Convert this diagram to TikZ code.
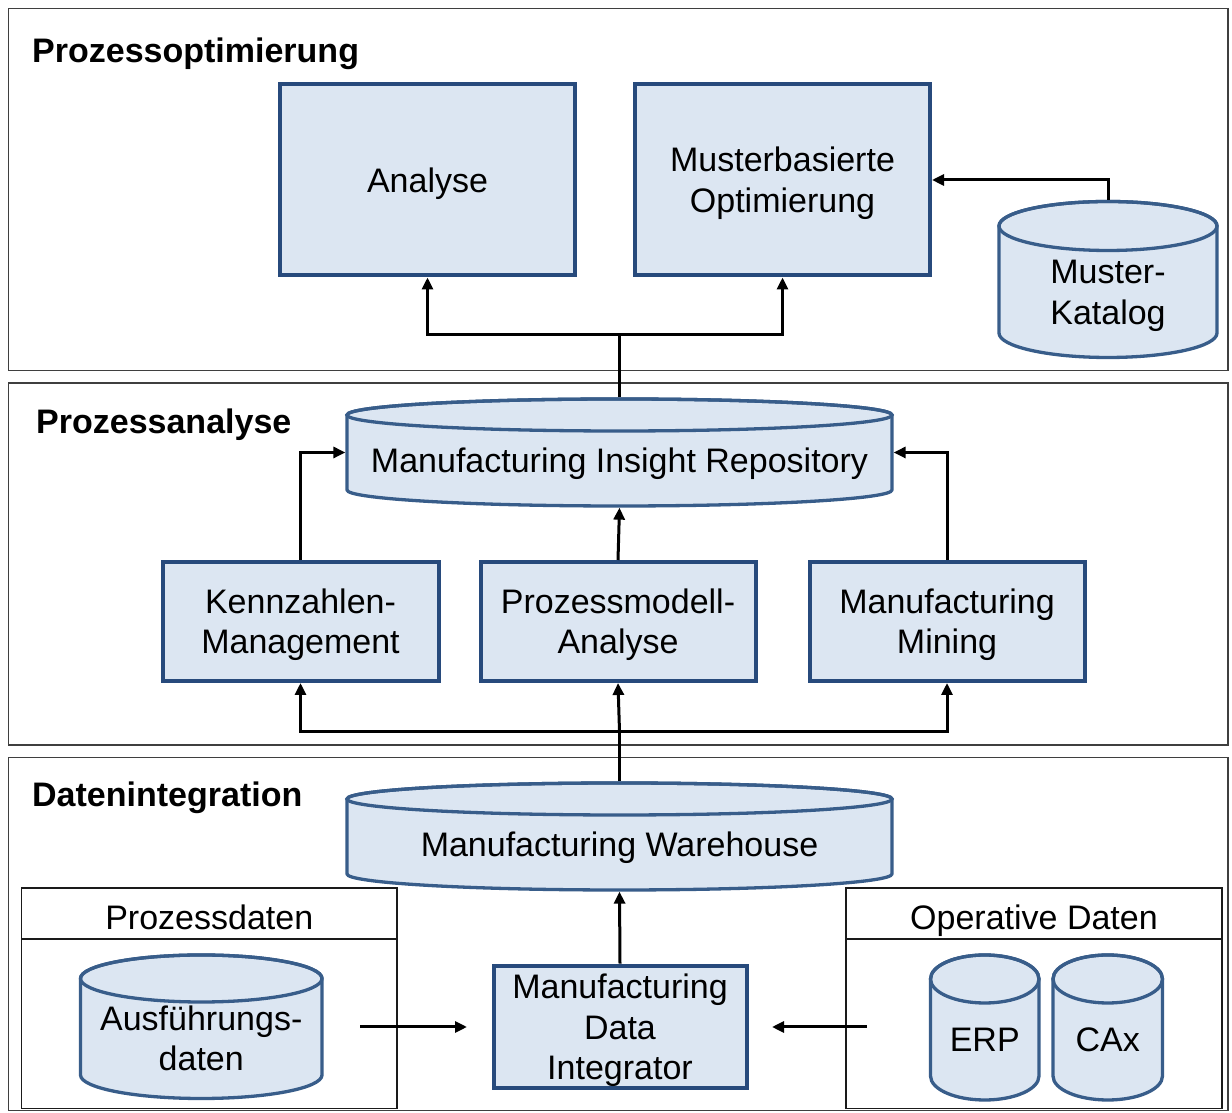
\documentclass[tikz,border=0pt]{standalone}
\usepackage{fontspec}
\setmainfont{Liberation Sans}
\usetikzlibrary{arrows.meta}

\definecolor{boxfill}{HTML}{DCE6F2}
\definecolor{boxline}{HTML}{274A7C}
\definecolor{cylline}{HTML}{385D8A}
\definecolor{panelline}{HTML}{3F3F3F}
\definecolor{subline}{HTML}{1A1A1A}

% struts so that the cap height of every text block is centred in its node
\newcommand\topstrut{\rule{0pt}{33pt}}
\newcommand\botstrut{\rule[-8.7pt]{0pt}{8.7pt}}

% database cylinder: name, left, right, top row, bottom row, y radius, text
% (rows are measured downwards from the top edge of the page)
\newcommand\dbcyl[7]{%
  \path[cylbody] ({#2},{1113-#4-#6}) -- ({#2},{1113-#5+#6})
     arc[start angle=180, end angle=360, x radius={(#3-#2)/2}, y radius={#6}]
     -- ({#3},{1113-#4-#6})
     arc[start angle=0, end angle=180, x radius={(#3-#2)/2}, y radius={#6}] -- cycle;
  \draw[cyledge] ({(#2+#3)/2},{1113-#4-#6}) ellipse[x radius={(#3-#2)/2}, y radius={#6}];
  \node[anchorbox, minimum width={(#3-#2)*1pt}, minimum height={(#5-#4)*1pt}]
     (#1) at ({(#2+#3)/2},{1113-(#4+#5)/2}) {};
  \node[txt] (#1-t) at ({(#2+#3)/2},{1113-(#4+#6+#5)/2}) {\topstrut#7};
}

\tikzset{
  txt/.style={font=\fontsize{34}{40.5}\selectfont, align=center, inner sep=0pt,
    execute at begin node=\topstrut, execute at end node=\botstrut},
  title/.style={font=\fontsize{34}{40.5}\selectfont\bfseries, inner sep=0pt, anchor=base west},
  blbox/.style={txt, rectangle, draw=boxline, fill=boxfill, line width=4pt,
    outer sep=2pt},
  cylbody/.style={draw=cylline, fill=boxfill, line width=3.3pt, line join=round},
  cyledge/.style={draw=cylline, line width=3.3pt},
  anchorbox/.style={rectangle, draw=none, inner sep=0pt, outer sep=1.65pt},
  panel/.style={draw=panelline, line width=1.5pt},
  subpanel/.style={draw=subline, line width=1.6pt},
  conn/.style={line width=3pt, -{Triangle[length=12pt,width=11pt]}},
  plainline/.style={line width=3pt},
}

\begin{document}
\begin{tikzpicture}[x=1pt, y=1pt]
  \useasboundingbox[fill=white] (0,0) rectangle (1232,1113);

  % layer frames
  \draw[panel] (8.5,742.5) rectangle (1228,1104.5);
  \draw[panel] (8.5,368) rectangle (1228,730);
  \draw[panel] (8.5,2.5) rectangle (1228,355.5);

  \node[title] (t1) at (32,1050.5) {Prozessoptimierung};
  \node[title] (t2) at (36,679) {Prozessanalyse};
  \node[title] (t3) at (32,306.5) {Datenintegration};

  % process optimisation
  \node[blbox, minimum width=295pt, minimum height=191pt] (ana) at (427.5,933) {\topstrut Analyse};
  \node[blbox, minimum width=295pt, minimum height=191pt] (opt) at (782.5,933) {\topstrut Musterbasierte\\Optimierung};
  \dbcyl{kat}{999}{1217}{201.5}{357.5}{24.5}{Muster-\\Katalog}

  % process analysis
  \dbcyl{mir}{347}{892}{399}{506}{16}{Manufacturing Insight Repository}
  \node[blbox, minimum width=276pt, minimum height=119pt] (ken) at (300.5,491.5) {\topstrut Kennzahlen-\\Management};
  \node[blbox, minimum width=275pt, minimum height=119pt] (pma) at (618,491.5) {\topstrut Prozessmodell-\\Analyse};
  \node[blbox, minimum width=275pt, minimum height=119pt] (mm) at (947,491.5) {\topstrut Manufacturing\\Mining};

  % data integration
  \dbcyl{mwh}{347}{892}{783}{890}{16}{Manufacturing Warehouse}

  \node[subpanel, rectangle, draw, minimum width=375.5pt, minimum height=220.5pt, inner sep=0pt]
     (pd) at (209.25,114.75) {};
  \draw[subpanel] (21.5,174) -- (397,174);
  \node[txt] (pd-t) at (209.25,195.5) {Prozessdaten};
  \dbcyl{aus}{80.5}{322}{955}{1098.5}{23.5}{Ausführungs-\\daten}

  \node[subpanel, rectangle, draw, minimum width=376pt, minimum height=220.5pt, inner sep=0pt]
     (od) at (1034,114.75) {};
  \draw[subpanel] (846,174) -- (1222,174);
  \node[txt] (od-t) at (1034,195.5) {Operative Daten};
  \dbcyl{erp}{930.5}{1039}{955}{1100}{24}{ERP}
  \dbcyl{cax}{1053}{1162.5}{955}{1100}{24}{CAx}

  \node[blbox, minimum width=253pt, minimum height=120pt] (mdi) at (620,86) {\topstrut Manufacturing\\Data\\Integrator};

  % connectors
  \draw[conn] (kat.north) |- (opt.east);

  \coordinate (j1) at (619.5,778);
  \draw[plainline] (mir.north) -- (j1);
  \draw[conn] (j1) -| (ana.south);
  \draw[conn] (j1) -| (opt.south);

  \draw[conn] (ken.north) |- (mir.west);
  \draw[conn] (mm.north) |- (mir.east);
  \draw[conn] (pma.north) -- (mir.south);

  \coordinate (j2) at (619.5,381.5);
  \draw[plainline] (mwh.north) -- (j2);
  \draw[conn] (j2) -| (ken.south);
  \draw[conn] (j2) -| (mm.south);
  \draw[conn] (j2) -- (pma.south);

  \draw[conn] (mdi.north) -- (mwh.south);

  \coordinate (pdout) at (360,86);
  \coordinate (mdiin) at (467,86);
  \coordinate (odout) at (867,86);
  \coordinate (mdiin2) at (772,86);
  \draw[conn] (pdout) -- (mdiin);
  \draw[conn] (odout) -- (mdiin2);
\end{tikzpicture}
\end{document}
